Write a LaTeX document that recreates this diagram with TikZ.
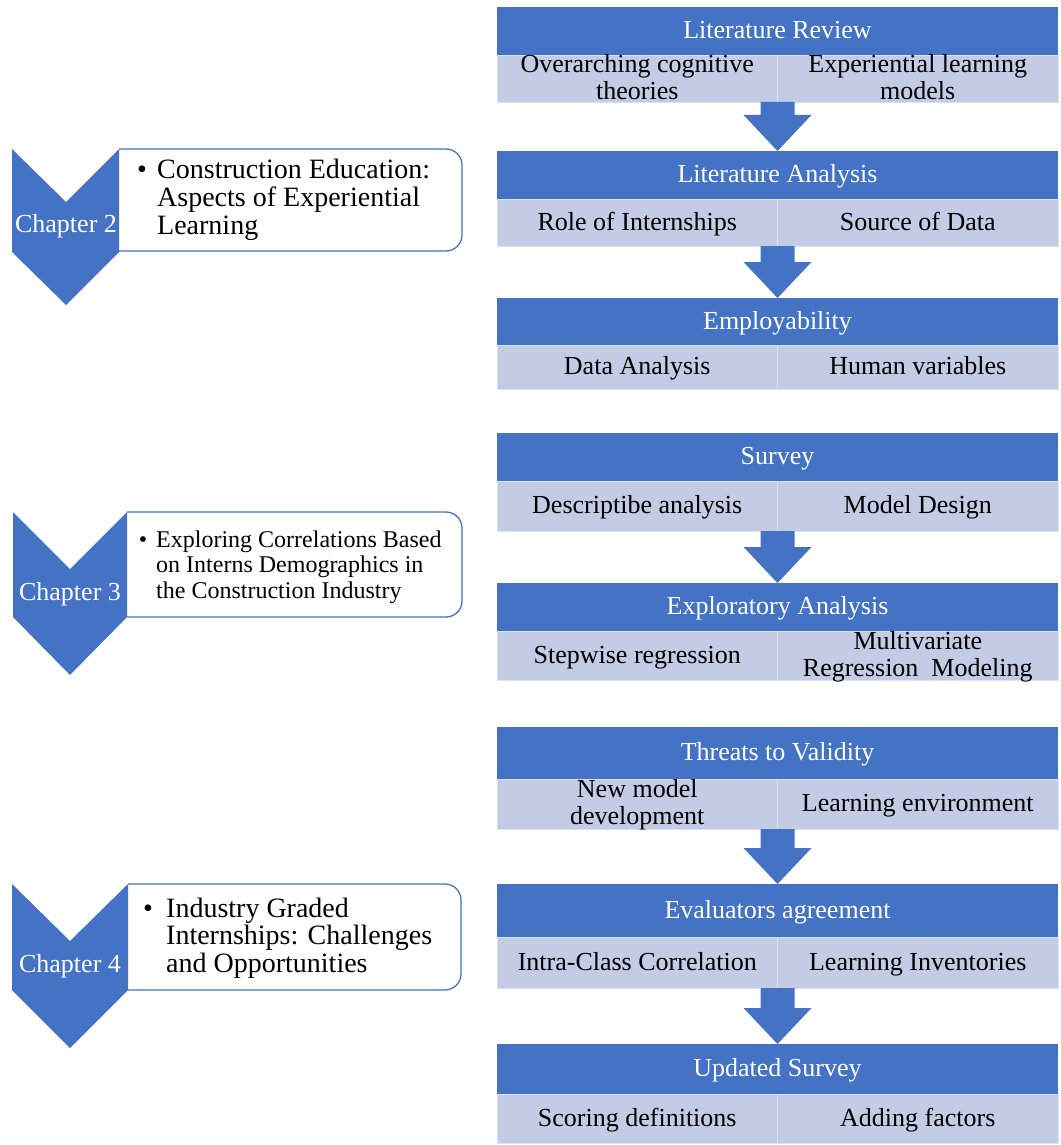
\documentclass[tikz,border=0pt]{standalone}
\usepackage{fontspec}
\setmainfont{Liberation Serif}
\usetikzlibrary{calc}
\definecolor{accent}{HTML}{4472C4}
\definecolor{tint}{HTML}{C3CBE5}

% one step of the flow: header bar over two sub cells
% #1 name, #2 top, #3 header bottom, #4 bottom, #5 header, #6 left cell, #7 right cell
\newcommand\flowblock[7]{%
  \node[hdr, minimum height={#3-#2}] (#1) at (777.5,{(#2+#3)/2}) {};
  \node[subcell, minimum height={#4-#3}] (#1l) at (637.25,{(#3+#4)/2}) {};
  \node[subcell, minimum height={#4-#3}] (#1r) at (917.75,{(#3+#4)/2}) {};
  \node[hdrtext] (#1t) at (#1.center) {#5};
  \node[celltext] (#1lt) at (#1l.center) {#6};
  \node[celltext] (#1rt) at (#1r.center) {#7};
}
% thick block arrow from the bottom of one step to the top of the next
\newcommand\downarrowblock[2]{%
  \fill[flowarrow] ($(#1l.south east)+(-17,0)$) -- ($(#1l.south east)+(17,0)$)
    -- ($(#2.north)+(17,-36)$) -- ($(#2.north)+(34,-36)$) -- (#2.north)
    -- ($(#2.north)+(-34,-36)$) -- ($(#2.north)+(-17,-36)$) -- cycle;}

\begin{document}
\begin{tikzpicture}[x=1pt,y=-1pt,
  hdr/.style={fill=accent, minimum width=561pt, inner sep=0pt, outer sep=0pt},
  hdrtext/.style={text=white, inner sep=0pt, yshift=-2.5pt,
    font=\fontsize{26}{27}\selectfont, execute at begin node=\strut},
  subcell/.style={fill=tint, draw=white!40!tint, line width=0.7pt, minimum width=280.5pt,
    inner sep=0pt, outer sep=0pt},
  celltext/.style={inner sep=0pt, align=center, yshift=-2.5pt, font=\fontsize{26}{27}\selectfont,
    execute at begin node=\strut, execute at end node=\strut},
  flowarrow/.style={fill=accent},
  chevron/.style={fill=accent},
  chapframe/.style={draw=accent, line width=1.3pt, rounded corners=16pt},
  chaplabel/.style={text=white, inner sep=0pt, font=\fontsize{26}{28}\selectfont},
  bullettext/.style={inner sep=0pt, anchor=base west},
  bulletmark/.style={inner sep=0pt, anchor=base}
]
\useasboundingbox (0,0) rectangle (1060,1145);

% ---------- flow on the right ----------
\flowblock{lr}{7}{55}{102}{Literature Review}{Overarching cognitive\\theories}{Experiential learning\\models}
\flowblock{la}{151}{199}{246}{Literature Analysis}{Role of Internships}{Source of Data}
\flowblock{emp}{298}{345}{389}{Employability}{Data Analysis}{Human variables}
\flowblock{sv}{433}{481}{531}{Survey}{Descriptibe analysis}{Model Design}
\flowblock{ea}{583}{631}{680}{Exploratory Analysis}{Stepwise regression}{Multivariate\\Regression\ \ Modeling}
\flowblock{tv}{727}{779}{829}{Threats to Validity}{New model\\development}{Learning environment}
\flowblock{eva}{884}{937}{988}{Evaluators agreement}{Intra-Class Correlation}{Learning Inventories}
\flowblock{us}{1044}{1094}{1143}{Updated Survey}{Scoring definitions}{Adding factors}

\downarrowblock{lr}{la}
\downarrowblock{la}{emp}
\downarrowblock{sv}{ea}
\downarrowblock{tv}{eva}
\downarrowblock{eva}{us}

% ---------- chapter markers on the left ----------
% Chapter 2
\draw[chapframe] (119,149) -- (462,149) -- (462,251) -- (119,251);
\fill[chevron] (12,149) -- (66,202) -- (119,149) -- (119,252) -- (66,305) -- (12,252) -- cycle;
\node[chaplabel] (ch2) at (66,226) {Chapter 2};
\node[bulletmark, font=\fontsize{28}{28}\selectfont] (b2) at (142,178) {\textbullet};
\node[bullettext, font=\fontsize{28}{28}\selectfont] (t2) at (157,178)
  {\begin{tabular}[t]{@{}l@{}}Construction Education:\\Aspects of Experiential\\Learning\end{tabular}};

% Chapter 3
\draw[chapframe] (127,512) -- (462,512) -- (462,617) -- (127,617);
\fill[chevron] (13,512) -- (70,569) -- (127,512) -- (127,617) -- (70,675) -- (13,617) -- cycle;
\node[chaplabel] (ch3) at (70,594) {Chapter 3};
\node[bulletmark, font=\fontsize{24}{25.5}\selectfont] (b3) at (143,547) {\textbullet};
\node[bullettext, font=\fontsize{24}{25.5}\selectfont] (t3) at (156,547)
  {\begin{tabular}[t]{@{}l@{}}Exploring Correlations Based\\on Interns Demographics in\\the Construction Industry\end{tabular}};

% Chapter 4
\draw[chapframe] (128,884) -- (461,884) -- (461,990) -- (128,990);
\fill[chevron] (12,884) -- (70,941) -- (128,884) -- (128,990) -- (70,1048) -- (12,990) -- cycle;
\node[chaplabel] (ch4) at (70,966) {Chapter 4};
\node[bulletmark, font=\fontsize{28}{27.5}\selectfont] (b4) at (148,917) {\textbullet};
\node[bullettext, font=\fontsize{28}{27.5}\selectfont] (t4) at (166,917)
  {\begin{tabular}[t]{@{}l@{}}Industry Graded\\Internships: Challenges\\and Opportunities\end{tabular}};
\end{tikzpicture}
\end{document}
